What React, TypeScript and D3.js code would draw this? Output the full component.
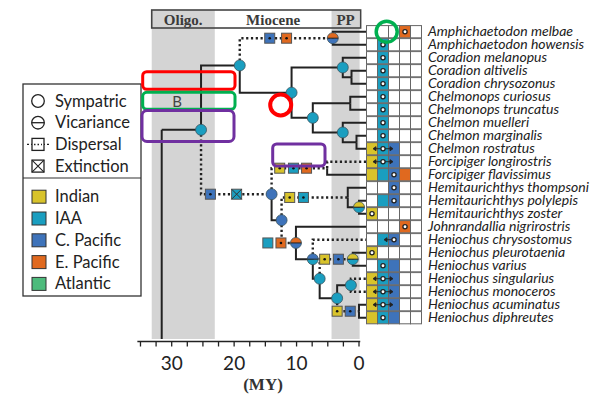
import React from 'react';
import * as d3 from 'd3';

// taxa, top to bottom
const species = [
  'Amphichaetodon melbae', 'Amphichaetodon howensis', 'Coradion melanopus', 'Coradion altivelis',
  'Coradion chrysozonus', 'Chelmonops curiosus', 'Chelmonops truncatus', 'Chelmon muelleri',
  'Chelmon marginalis', 'Chelmon rostratus', 'Forcipiger longirostris', 'Forcipiger flavissimus',
  'Hemitaurichthys thompsoni', 'Hemitaurichthys polylepis', 'Hemitaurichthys zoster',
  'Johnrandallia nigrirostris', 'Heniochus chrysostomus', 'Heniochus pleurotaenia', 'Heniochus varius',
  'Heniochus singularius', 'Heniochus monoceros', 'Heniochus acuminatus', 'Heniochus diphreutes',
];
// per region column: '.' absent, 'F' present, 'O' present + origin
const tipRegions = [
  '...O.', '.O...', '.O...', '.O...', '.O...', '.O...', '.O...', '.O...', '.O...',
  'FOF..', 'FOF..', 'FFOF.', '..O..', '.FO..', 'O....', '...O.', '.FO..', 'O....',
  '.OF..', 'FOF..', 'FOF..', 'FOF..', 'FOF..',
];
const tipArrows = [
  '', '', '', '', '', '', '', '', '', 'both', 'both', '', '', '', '', '', 'left', '', '',
  'both', 'both', 'both', '',
];

const regionNames = ['Indian', 'IAA', 'C. Pacific', 'E. Pacific', 'Atlantic'];
const regionColors = ['#D8C32B', '#1A9EC0', '#3E73BA', '#E0691F', '#4DBB7C'];

// internal nodes (ages in MY)
const nodeIds = ['root', 'R2', 'N1', 'Amph', 'N2', 'Cora', 'Cora2', 'N3', 'Chelmonops', 'Chelmon', 'Chelmon2',
  'A', 'Forc', 'B', 'Hemi', 'Hemi2', 'C', 'D', 'E', 'PV', 'F', 'G', 'H'];
const nodeAges = [31.6, 25.3, 19.1, 4.2, 10.8, 2.6, 1.2, 7.4, 1.4, 2.6, 0.4,
  14.0, 5.1, 12.4, 1.8, 0.0, 10.1, 7.4, 6.3, 1.0, 3.5, 1.3, 0.0];
const nodeKids = [
  ['R2'], ['N1', 'A'], ['Amph', 'N2'], ['t0', 't1'], ['Cora', 'N3'], ['t2', 'Cora2'], ['t3', 't4'],
  ['Chelmonops', 'Chelmon'], ['t5', 't6'], ['t7', 'Chelmon2'], ['t8', 't9'],
  ['Forc', 'B'], ['t10', 't11'], ['Hemi', 'C'], ['t12', 'Hemi2'], ['t13', 't14'],
  ['t15', 'D'], ['t16', 'E'], ['PV', 'F'], ['t17', 't18'], ['G', 'H'], ['t19', 't20'], ['t21', 't22'],
];
// event symbol colours (region index, -1 none); top != bottom => vicariance
const nodeTop = [-1, 1, 1, 3, 1, 1, -1, 1, -1, 1, -1, 2, -1, 2, -1, 0, 3, 2, 1, 0, 1, 1, -1];
const nodeBottom = [-1, 1, 1, 2, 1, 1, -1, 1, -1, 1, -1, 2, -1, 2, -1, 1, 2, 1, 1, 1, 1, 1, -1];

const dottedBranches = ['A', 'Amph', 'Forc', 't10', 'Hemi', 'C', 't16', 'PV', 't19', 't20', 'H'];

// range-change boxes along branches
const dispBranch = ['Amph', 'Amph', 'A', 'A', 'Forc', 'Forc', 'Forc', 'Hemi', 'Hemi', 'C', 'C', 'PV', 'PV', 'H', 'H'];
const dispAge = [14.3, 11.6, 23.8, 19.6, 12.7, 10.5, 8.4, 11.1, 8.9, 14.6, 12.5, 5.5, 3.3, 3.5, 1.4];
const dispRegion = [2, 3, 2, 1, 0, 1, 3, 0, 1, 1, 3, 0, 2, 0, 2];
const dispKind = ['d', 'd', 'd', 'x', 'd', 'd', 'd', 'd', 'd', 'p', 'd', 'd', 'd', 'd', 'd'];

const epochNames = ['Oligo.', 'Miocene', 'PP'];
const epochStart = [33.2, 23.1, 4.4];
const epochEnd = [23.1, 4.4, -0.1];
const epochShaded = [true, false, true];
const tickValues = d3.range(0, 35.01, 2.5);
const tickLabels = [0, 10, 20, 30];

const eventNames = ['Sympatric', 'Vicariance', 'Dispersal', 'Extinction'];

const W = 599, H = 397;
const ink = '#222';

const App: React.FC = () => {
  const x = d3.scaleLinear().domain([30, 0]).range([171.7, 359]);
  const y = d3.scaleLinear().domain([0, species.length - 1]).range([31.7, 317.7]);
  const gridLeft = 366.5, cellW = 11, cellH = 12.2;
  const axisY = 341.5, headTop = 10, headBot = 28;

  const pos: Record<string, { x: number; y: number }> = {};
  const place = (id: string): { x: number; y: number } => {
    if (id.startsWith('t')) {
      pos[id] = { x: gridLeft, y: y(+id.slice(1)) };
      return pos[id];
    }
    const i = nodeIds.indexOf(id);
    const kids = nodeKids[i].map(place);
    pos[id] = { x: x(nodeAges[i]), y: (kids[0].y + kids[kids.length - 1].y) / 2 };
    return pos[id];
  };
  place('root');

  const branches: { d: string; dotted: boolean }[] = [];
  nodeIds.forEach((id, i) => {
    const p = pos[id];
    nodeKids[i].forEach(k => {
      const c = pos[k];
      branches.push({ d: `M${p.x},${p.y}V${c.y}H${c.x}`, dotted: dottedBranches.includes(k) });
    });
  });

  const r = 5.5;
  const dotted = '2.2,2.6';

  return (
    <svg width={W} height={H} style={{ position: 'absolute', left: 0, top: 0, background: '#fff' }}>
      {/* epoch bands */}
      <rect x={x(33.2)} y={headTop} width={x(-0.1) - x(33.2) + 1} height={headBot - headTop} fill="#fff" />
      {epochNames.map((e, i) => epochShaded[i] ? (
        <rect key={e} x={x(epochStart[i])} y={headTop} width={x(epochEnd[i]) - x(epochStart[i])}
          height={axisY - 2.5 - headTop} fill="#D4D4D4" />
      ) : null)}
      <rect x={x(33.2)} y={headTop} width={x(-0.1) - x(33.2) + 1} height={headBot - headTop}
        fill="none" stroke="#444" strokeWidth={1.6} />
      {epochNames.map((e, i) => (
        <text key={e} x={(x(epochStart[i]) + x(epochEnd[i])) / 2} y={25} textAnchor="middle"
          fontFamily="Liberation Serif" fontWeight="bold" fontSize={15} fill="#3a3a3a">{e}</text>
      ))}

      {/* stem */}
      <path d={`M${pos.root.x},${pos.root.y}V${axisY - 2.5}`} stroke={ink} strokeWidth={2} fill="none" />
      {branches.map((b, i) => (
        <path key={i} d={b.d} fill="none" stroke={ink} strokeWidth={b.dotted ? 2.4 : 2}
          strokeDasharray={b.dotted ? dotted : undefined} />
      ))}

      {/* range-change boxes */}
      {dispBranch.map((b, i) => {
        const cx = x(dispAge[i]), cy = pos[b].y, s = 10;
        return (
          <g key={i}>
            <rect x={cx - s / 2} y={cy - s / 2} width={s} height={s} fill={regionColors[dispRegion[i]]}
              stroke="#555" strokeWidth={1} />
            {dispKind[i] === 'd' && <circle cx={cx} cy={cy} r={1.3} fill="#111" />}
            {dispKind[i] === 'x' && (
              <path d={`M${cx - s / 2},${cy - s / 2}L${cx + s / 2},${cy + s / 2}M${cx + s / 2},${cy - s / 2}L${cx - s / 2},${cy + s / 2}`}
                stroke="#333" strokeWidth={1} />
            )}
          </g>
        );
      })}

      {/* node events */}
      {nodeIds.map((id, i) => {
        if (nodeTop[i] < 0) return null;
        const { x: cx, y: cy } = pos[id];
        if (nodeTop[i] === nodeBottom[i]) {
          return <circle key={id} cx={cx} cy={cy} r={r} fill={regionColors[nodeTop[i]]} stroke="#3b5560" strokeWidth={0.8} />;
        }
        return (
          <g key={id}>
            <path d={`M${cx - r},${cy}A${r},${r} 0 0 1 ${cx + r},${cy}Z`} fill={regionColors[nodeTop[i]]} />
            <path d={`M${cx - r},${cy}A${r},${r} 0 0 0 ${cx + r},${cy}Z`} fill={regionColors[nodeBottom[i]]} />
            <circle cx={cx} cy={cy} r={r} fill="none" stroke="#3b5560" strokeWidth={0.8} />
            <line x1={cx - r} x2={cx + r} y1={cy} y2={cy} stroke="#222" strokeWidth={1} />
          </g>
        );
      })}

      {/* tip range grid */}
      {species.map((s, i) => {
        const cy = y(i);
        const cells = tipRegions[i].split('');
        const dotCol = cells.indexOf('O');
        return (
          <g key={s}>
            {cells.map((c, j) => (
              <rect key={j} x={gridLeft + j * cellW} y={cy - cellH / 2} width={cellW} height={cellH}
                fill={c === '.' ? '#fff' : regionColors[j]} stroke="#666" strokeWidth={1} />
            ))}
            {tipArrows[i] && (() => {
              const dx = gridLeft + (dotCol + 0.5) * cellW;
              const tL = dx - cellW + 1;
              const tR = dx + cellW - 1;
              return (
                <g stroke="#222" strokeWidth={0.9} fill="#222">
                  <line x1={tL + 1} x2={dx - 2} y1={cy} y2={cy} />
                  <path d={`M${tL},${cy}l3,-2v4z`} />
                  {tipArrows[i] === 'both' && <>
                    <line x1={dx + 2} x2={tR - 1} y1={cy} y2={cy} />
                    <path d={`M${tR},${cy}l-3,-2v4z`} />
                  </>}
                </g>
              );
            })()}
            {dotCol >= 0 && (
              <circle cx={gridLeft + (dotCol + 0.5) * cellW} cy={cy} r={2.1} fill="#fff" stroke="#222" strokeWidth={1.3} />
            )}
            <text x={428} y={cy + 4.4} fontFamily="Lato" fontStyle="italic" fontSize={14} fill={ink}>{s}</text>
          </g>
        );
      })}

      {/* axis */}
      <line x1={x(35.5)} x2={x(-0.2)} y1={axisY} y2={axisY} stroke={ink} strokeWidth={1.5} />
      {tickValues.map(t => (
        <line key={t} x1={x(t)} x2={x(t)} y1={axisY} y2={axisY + 5} stroke={ink} strokeWidth={1.3} />
      ))}
      {tickLabels.map(t => (
        <text key={t} x={x(t)} y={370} textAnchor="middle" fontFamily="Lato" fontSize={19} fill={ink}>{t}</text>
      ))}
      <text x={263} y={390} textAnchor="middle" fontFamily="Liberation Serif" fontWeight="bold" fontSize={17} fill="#333">(MY)</text>

      {/* legend */}
      <rect x={23} y={84} width={118} height={212} fill="#fff" stroke="#333" strokeWidth={1.3} />
      <line x1={23} x2={141} y1={178} y2={178} stroke="#333" strokeWidth={1.2} />
      {eventNames.map((e, i) => {
        const cy = 101 + i * 21.7, cx = 38;
        return (
          <g key={e}>
            {i === 0 && <circle cx={cx} cy={cy} r={6.3} fill="#fff" stroke="#222" strokeWidth={1.3} />}
            {i === 1 && <>
              <circle cx={cx} cy={cy} r={6.3} fill="#fff" stroke="#222" strokeWidth={1.3} />
              <line x1={cx - 6.3} x2={cx + 6.3} y1={cy} y2={cy} stroke="#222" strokeWidth={1.3} />
            </>}
            {i === 2 && <>
              <line x1={cx - 11} x2={cx + 11} y1={cy} y2={cy} stroke="#222" strokeWidth={1.3} strokeDasharray="2,2" />
              <rect x={cx - 6} y={cy - 6} width={12} height={12} fill="#fff" stroke="#222" strokeWidth={1.3} />
              <line x1={cx - 4} x2={cx + 4} y1={cy} y2={cy} stroke="#222" strokeWidth={1.5} strokeDasharray="1.5,2" />
            </>}
            {i === 3 && <>
              <rect x={cx - 6} y={cy - 6} width={12} height={12} fill="#fff" stroke="#222" strokeWidth={1.3} />
              <path d={`M${cx - 6},${cy - 6}L${cx + 6},${cy + 6}M${cx + 6},${cy - 6}L${cx - 6},${cy + 6}`} stroke="#222" strokeWidth={1.1} />
            </>}
            <text x={55} y={cy + 5.5} fontFamily="Lato" fontSize={16.5} fill={ink}>{e}</text>
          </g>
        );
      })}
      {regionNames.map((n, i) => {
        const cy = 196.7 + i * 21.8;
        return (
          <g key={n}>
            <rect x={32} y={cy - 6.5} width={14} height={13} fill={regionColors[i]} stroke="#333" strokeWidth={1} />
            <text x={55} y={cy + 5.5} fontFamily="Lato" fontSize={16.5} fill={ink}>{n}</text>
          </g>
        );
      })}

      {/* annotation marks */}
      <text x={177} y={107} textAnchor="middle" fontFamily="Lato" fontSize={15} fill="#444">B</text>
      <rect x={142.7} y={71.7} width={92.3} height={17.6} rx={4} fill="none" stroke="#FF0000" strokeWidth={3} />
      <rect x={142.7} y={92.3} width={92.3} height={17} rx={4} fill="none" stroke="#00B050" strokeWidth={3} />
      <rect x={142} y={110.5} width={92} height={31} rx={5} fill="none" stroke="#7030A0" strokeWidth={3} />
      <rect x={272.7} y={144} width={52.3} height={22} rx={4} fill="none" stroke="#7030A0" strokeWidth={3} />
      <circle cx={280.7} cy={105} r={10.5} fill="none" stroke="#FF0000" strokeWidth={4} />
      <circle cx={386.7} cy={31.7} r={10.5} fill="none" stroke="#00B050" strokeWidth={3.5} />
    </svg>
  );
};

export default App;
